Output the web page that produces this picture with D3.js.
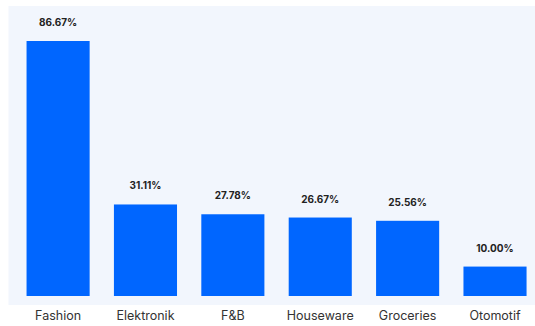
<!DOCTYPE html>
<html>
<head>
<meta charset="utf-8">
<script src="https://cdn.jsdelivr.net/npm/d3@7"></script>
<style>
  body { margin: 0; background: #fff; }
  svg { display: block; }
</style>
</head>
<body>
<div id="chart"></div>
<script>
  var categories = ['Fashion', 'Elektronik', 'F&B', 'Houseware', 'Groceries', 'Otomotif'];
  var values = [86.67, 31.11, 27.78, 26.67, 25.56, 10.00];

  var width = 535, height = 326;

  var svg = d3.select('#chart').append('svg')
      .attr('width', width)
      .attr('height', height);

  // panel background
  svg.append('rect')
      .attr('x', 8.5)
      .attr('y', 6)
      .attr('width', width - 8.5)
      .attr('height', 299)
      .attr('fill', '#f2f6fd');

  var x = d3.scaleBand()
      .domain(categories)
      .range([14.4, 538.7])
      .paddingInner(0.278)
      .paddingOuter(0.139);

  var y = d3.scaleLinear()
      .domain([0, 86.67])
      .range([296, 41]);

  svg.selectAll('rect.bar')
      .data(values)
      .enter().append('rect')
      .attr('class', 'bar')
      .attr('x', (d, i) => x(categories[i]))
      .attr('y', (d) => y(d))
      .attr('width', x.bandwidth())
      .attr('height', (d) => y(0) - y(d))
      .attr('fill', '#0066ff');

  svg.selectAll('text.val')
      .data(values)
      .enter().append('text')
      .attr('class', 'val')
      .attr('x', (d, i) => x(categories[i]) + x.bandwidth() / 2)
      .attr('y', (d) => y(d) - 15)
      .attr('text-anchor', 'middle')
      .attr('font-family', 'Inter, sans-serif')
      .attr('font-weight', 'bold')
      .attr('font-size', '10px')
      .attr('fill', '#222')
      .text((d) => d.toFixed(2) + '%');

  var axis = d3.axisBottom(x).tickSize(0).tickPadding(0);

  svg.append('g')
      .attr('transform', 'translate(0, 316)')
      .call(axis)
      .call((g) => g.select('.domain').remove())
      .selectAll('text')
      .attr('dy', '0.35em')
      .attr('font-family', 'Inter, sans-serif')
      .attr('font-size', '12.5px')
      .attr('fill', '#333');
</script>
</body>
</html>
